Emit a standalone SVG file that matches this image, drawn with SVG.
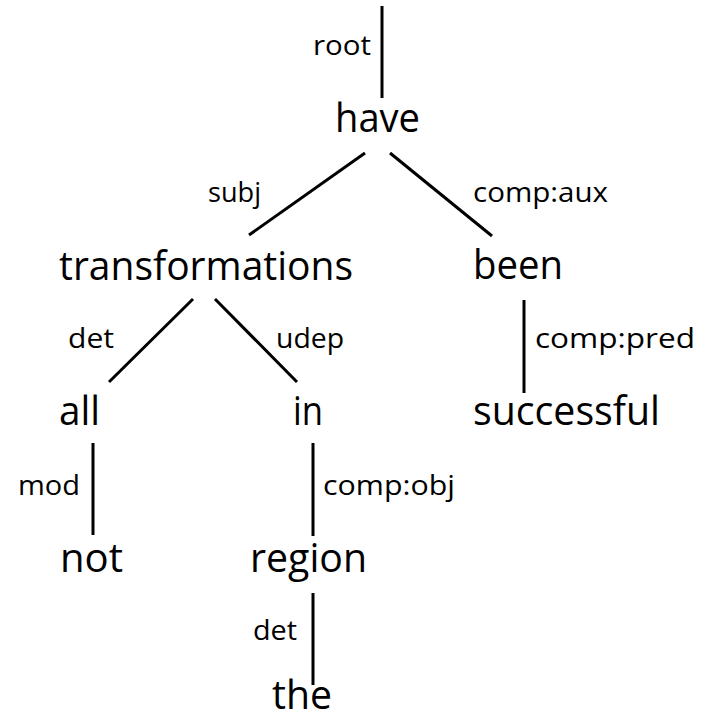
<svg xmlns="http://www.w3.org/2000/svg" width="702" height="721" viewBox="0 0 702 721">
  <style>
    .bg { fill: #ffffff; }
    .word { font-family: "Open Sans", "Noto Sans", "Liberation Sans", sans-serif; font-size: 40px; fill: #000000; }
    .rel { font-family: "Open Sans", "Noto Sans", "Liberation Sans", sans-serif; font-size: 28px; fill: #000000; }
    .edge { stroke: #000000; stroke-width: 3; stroke-linecap: butt; fill: none; }
  </style>
  <rect class="bg" x="0" y="0" width="702" height="721"/>

  <!-- dependency edges -->
  <g id="connectors">
    <line class="edge" x1="382" y1="6" x2="382" y2="98"/>
    <line class="edge" x1="365" y1="153" x2="249" y2="235"/>
    <line class="edge" x1="390" y1="153" x2="492" y2="236"/>
    <line class="edge" x1="524" y1="300" x2="524" y2="393"/>
    <line class="edge" x1="193" y1="299" x2="109" y2="382"/>
    <line class="edge" x1="215" y1="299" x2="297" y2="382"/>
    <line class="edge" x1="93" y1="443" x2="93" y2="535"/>
    <line class="edge" x1="313" y1="443" x2="313" y2="536"/>
    <line class="edge" x1="313" y1="593" x2="313" y2="685"/>
  </g>

  <!-- relation labels -->
  <g id="labels">
    <text class="rel" x="313" y="55" textLength="58" lengthAdjust="spacingAndGlyphs">root</text>
    <text class="rel" x="208" y="202" textLength="53" lengthAdjust="spacingAndGlyphs">subj</text>
    <text class="rel" x="473" y="202" textLength="135" lengthAdjust="spacingAndGlyphs">comp:aux</text>
    <text class="rel" x="68" y="348" textLength="46" lengthAdjust="spacingAndGlyphs">det</text>
    <text class="rel" x="276" y="348" textLength="68" lengthAdjust="spacingAndGlyphs">udep</text>
    <text class="rel" x="535" y="348" textLength="160" lengthAdjust="spacingAndGlyphs">comp:pred</text>
    <text class="rel" x="18" y="495" textLength="62" lengthAdjust="spacingAndGlyphs">mod</text>
    <text class="rel" x="323" y="495" textLength="132" lengthAdjust="spacingAndGlyphs">comp:obj</text>
    <text class="rel" x="253" y="640" textLength="44" lengthAdjust="spacingAndGlyphs">det</text>
  </g>

  <!-- word nodes -->
  <g id="node-have"><text class="word" x="335" y="132" textLength="85" lengthAdjust="spacingAndGlyphs">have</text></g>
  <g id="node-transformations"><text class="word" x="59" y="280" textLength="294" lengthAdjust="spacingAndGlyphs">transformations</text></g>
  <g id="node-been"><text class="word" x="473" y="279" textLength="90" lengthAdjust="spacingAndGlyphs">been</text></g>
  <g id="node-all"><text class="word" x="59" y="425" textLength="41" lengthAdjust="spacingAndGlyphs">all</text></g>
  <g id="node-in"><text class="word" x="293" y="425" textLength="30" lengthAdjust="spacingAndGlyphs">in</text></g>
  <g id="node-successful"><text class="word" x="473" y="425" textLength="187" lengthAdjust="spacingAndGlyphs">successful</text></g>
  <g id="node-not"><text class="word" x="60" y="572" textLength="63" lengthAdjust="spacingAndGlyphs">not</text></g>
  <g id="node-region"><text class="word" x="250" y="572" textLength="117" lengthAdjust="spacingAndGlyphs">region</text></g>
  <g id="node-the"><text class="word" x="272" y="709" textLength="60" lengthAdjust="spacingAndGlyphs">the</text></g>
</svg>
